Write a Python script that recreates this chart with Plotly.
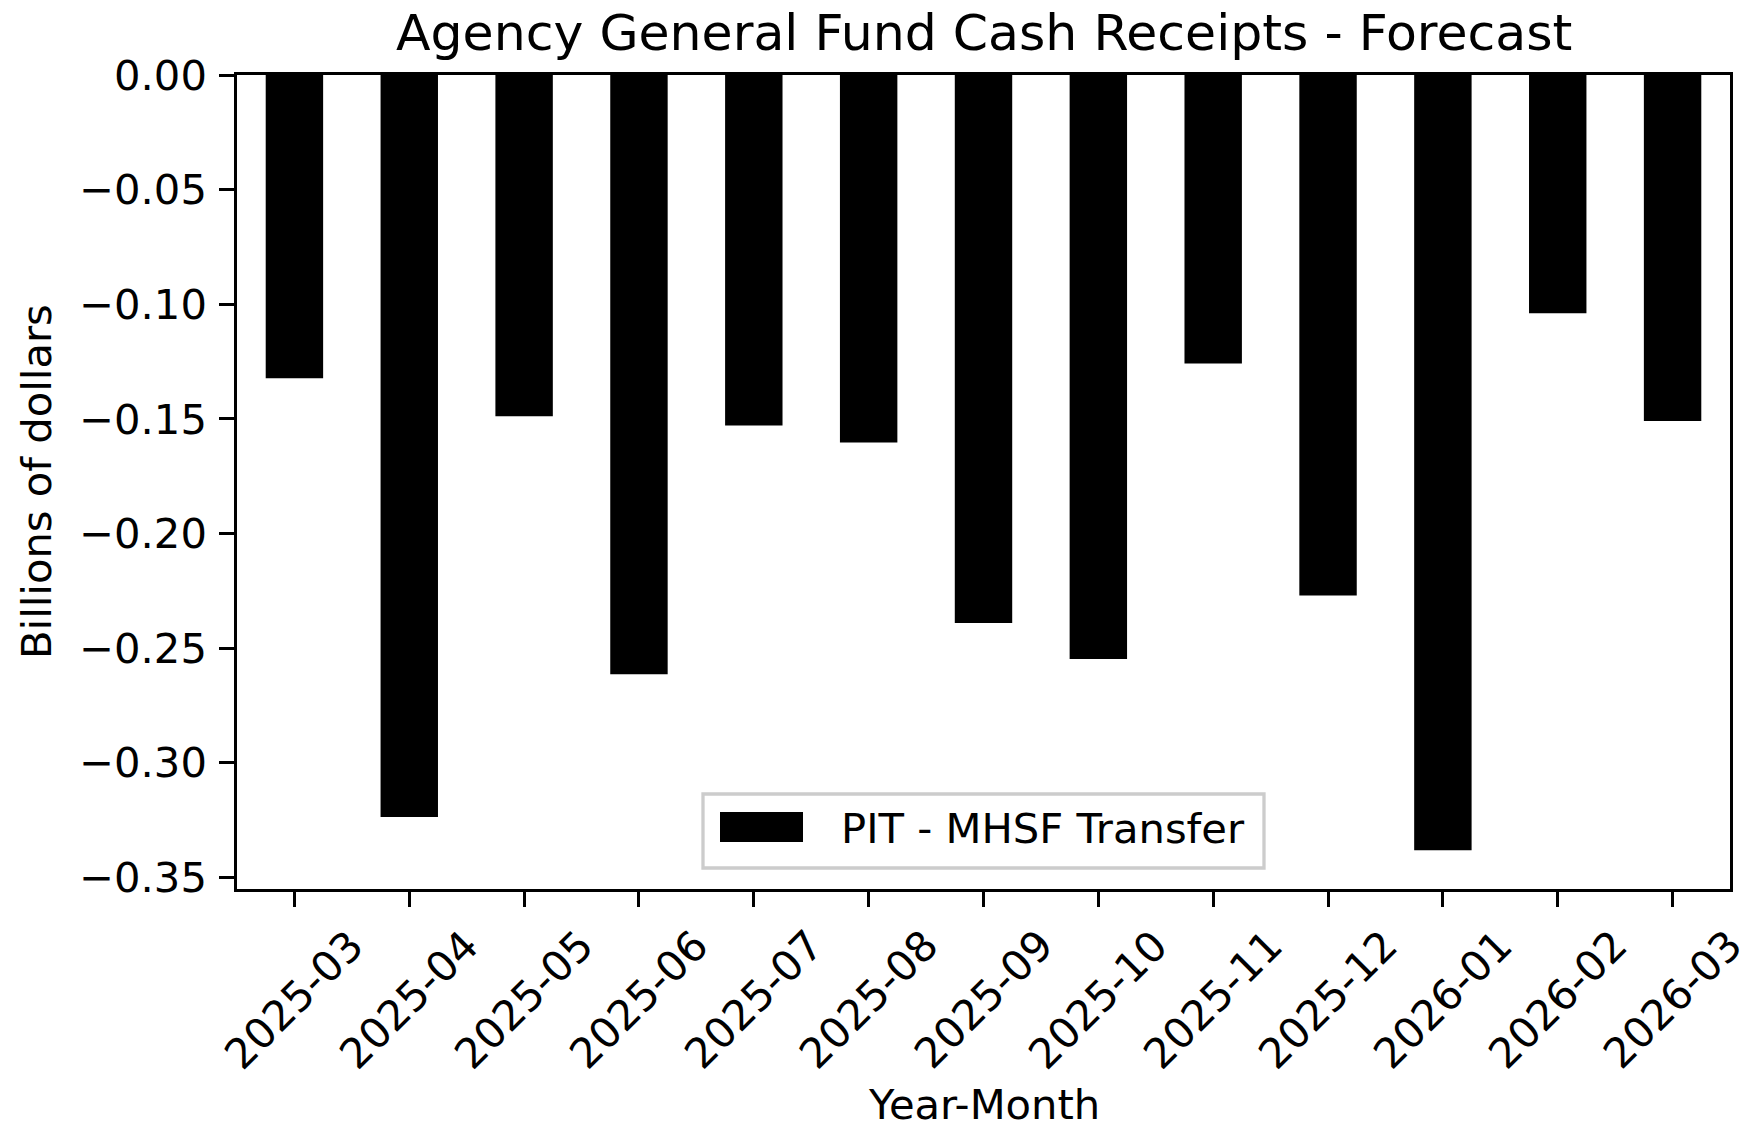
import plotly.graph_objects as go

# Monthly forecast of the PIT - MHSF transfer (billions of dollars)
months = ["2025-03", "2025-04", "2025-05", "2025-06", "2025-07", "2025-08", "2025-09",
          "2025-10", "2025-11", "2025-12", "2026-01", "2026-02", "2026-03"]
transfer = [-0.1323, -0.3236, -0.1488, -0.2614, -0.1529, -0.1603, -0.2390,
            -0.2547, -0.1258, -0.2270, -0.3381, -0.1039, -0.1509]
series_name = "PIT - MHSF Transfer"
y_ticks = [0.00, -0.05, -0.10, -0.15, -0.20, -0.25, -0.30, -0.35]
y_tick_text = [("\u2212" if v < 0 else "") + f"{abs(v):.2f}" for v in y_ticks]

title_text = "Agency General Fund Cash Receipts - Forecast"
x_title = "Year-Month"
y_title = "Billions of dollars"

W, H = 1754, 1132
PLOT_L, PLOT_R, PLOT_T, PLOT_B = 237, 1730, 75, 889
FONT = "DejaVu Sans"
TICK_FS = 41.7
TITLE_FS = 50.5
LW = 3.3
TICK_LEN = 14.6


def px_x(px):
    return (px - PLOT_L) / (PLOT_R - PLOT_L)


def px_y(py):
    return (PLOT_B - py) / (PLOT_B - PLOT_T)


y_bottom = min(transfer) * 1.05

fig = go.Figure()
fig.add_trace(go.Bar(
    x=months, y=transfer, name=series_name, width=0.5,
    marker=dict(color="black", line=dict(width=0)),
    showlegend=False,
))

annotations = []
# rotated month labels, centred under each tick
for m in months:
    annotations.append(dict(
        x=m, xref="x", y=0, yref="paper", yanchor="top", xanchor="center",
        yshift=-(TICK_LEN + 14.6), text=m, textangle=-45, showarrow=False,
        font=dict(family=FONT, size=TICK_FS, color="black"),
    ))

# title and axis titles
annotations.append(dict(
    x=0.5, xref="paper", y=px_y(33), yref="paper", xanchor="center", yanchor="middle",
    text=title_text, showarrow=False, font=dict(family=FONT, size=TITLE_FS, color="black"),
))
annotations.append(dict(
    x=0.5, xref="paper", y=px_y(1131), yref="paper", xanchor="center", yanchor="bottom",
    text=x_title, showarrow=False, font=dict(family=FONT, size=TICK_FS, color="black"),
))
annotations.append(dict(
    x=px_x(36), xref="paper", y=0.5, yref="paper", xanchor="center", yanchor="middle",
    text=y_title, textangle=-90, showarrow=False,
    font=dict(family=FONT, size=TICK_FS, color="black"),
))

# legend: framed box with a wide black patch and the series name
annotations.append(dict(
    x=px_x(839), xref="paper", y=px_y(828), yref="paper", xanchor="left", yanchor="middle",
    text=series_name, showarrow=False, font=dict(family=FONT, size=TICK_FS, color="black"),
))
shapes = [
    dict(type="rect", xref="paper", yref="paper",
         x0=px_x(703), x1=px_x(1264), y0=px_y(868), y1=px_y(794),
         fillcolor="white", line=dict(color="#cccccc", width=3.3), layer="above"),
    dict(type="rect", xref="paper", yref="paper",
         x0=px_x(720), x1=px_x(803), y0=px_y(842), y1=px_y(812),
         fillcolor="black", line=dict(width=0), layer="above"),
]

fig.update_layout(
    width=W, height=H,
    margin=dict(l=PLOT_L, r=W - PLOT_R, t=PLOT_T, b=H - PLOT_B, pad=0),
    paper_bgcolor="white", plot_bgcolor="white",
    font=dict(family=FONT, size=TICK_FS, color="black"),
    annotations=annotations, shapes=shapes,
    bargap=0.5,
)
fig.update_xaxes(
    type="category", range=[-0.5, len(months) - 0.5],
    showline=True, linecolor="black", linewidth=LW, mirror=True,
    ticks="outside", ticklen=TICK_LEN, tickwidth=LW, tickcolor="black",
    showticklabels=False, showgrid=False, zeroline=False,
)
fig.update_yaxes(
    range=[y_bottom, 0],
    tickvals=y_ticks, ticktext=y_tick_text,
    showline=True, linecolor="black", linewidth=LW, mirror=True,
    ticks="outside", ticklen=TICK_LEN, tickwidth=LW, tickcolor="black",
    ticklabelstandoff=4,
    tickfont=dict(family=FONT, size=TICK_FS, color="black"),
    showgrid=False, zeroline=False,
)

fig.write_html("out.html")
